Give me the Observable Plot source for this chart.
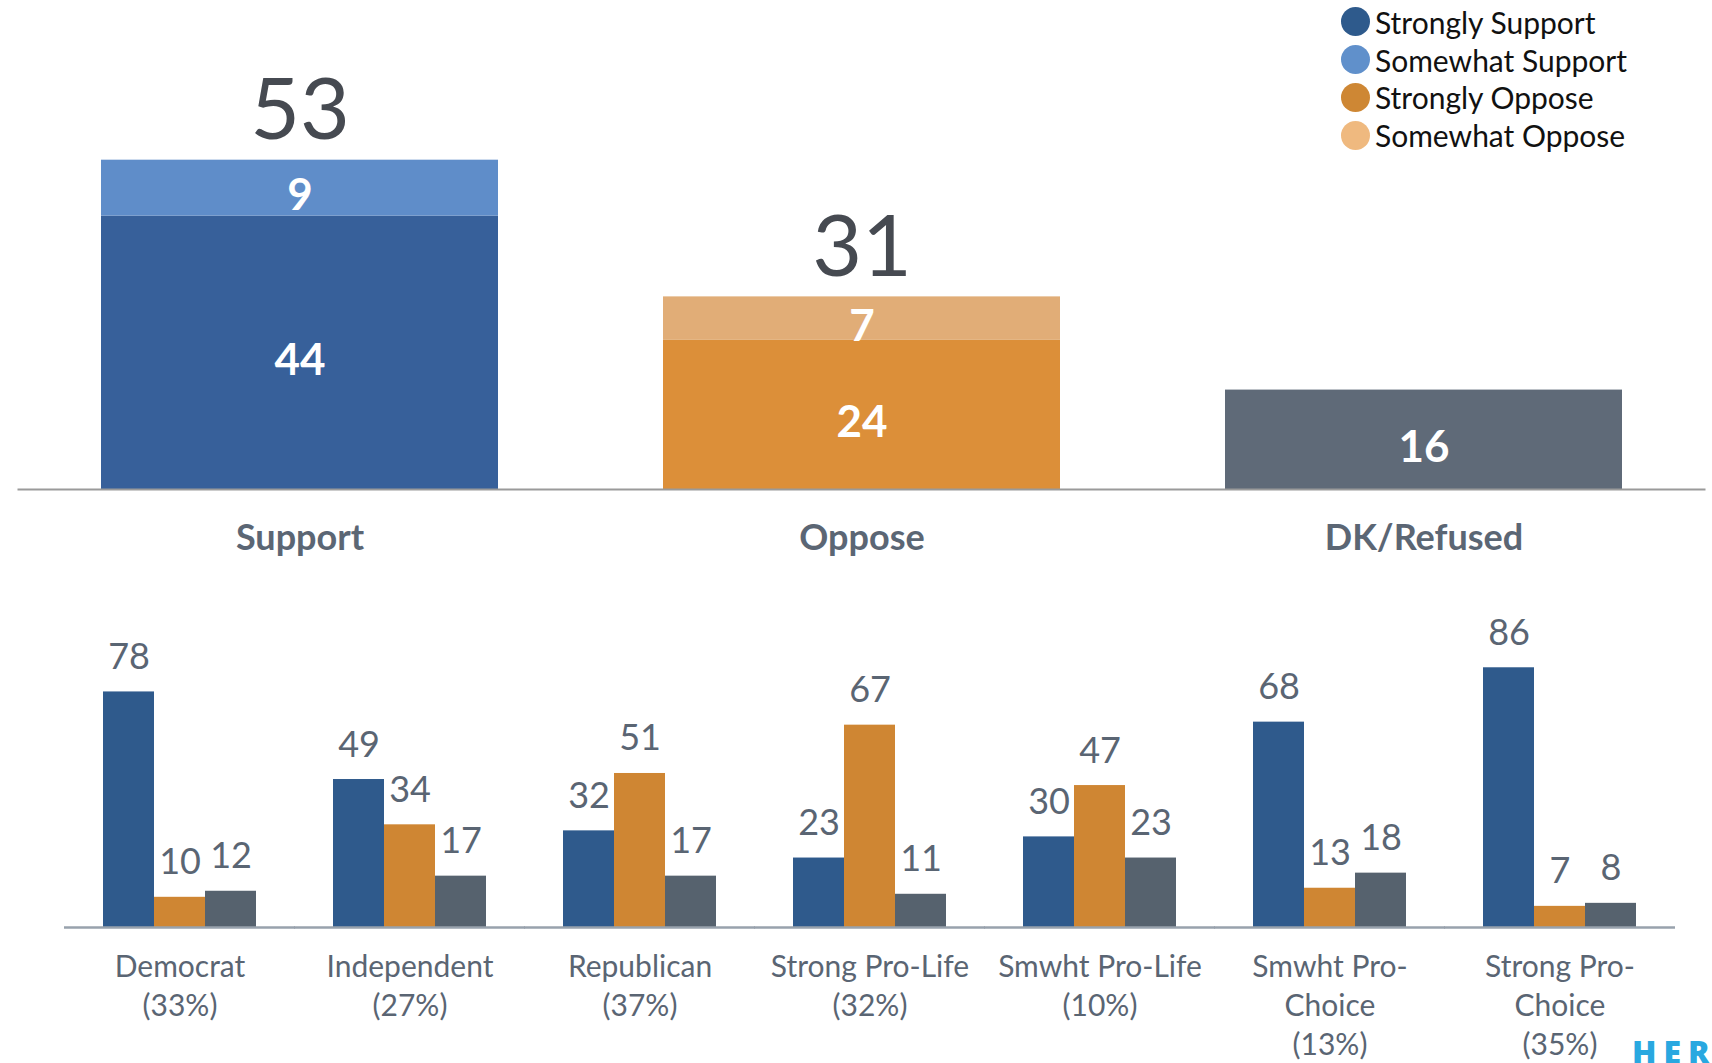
<!DOCTYPE html>
<html>
<head>
<meta charset="utf-8">
<script src="https://cdn.jsdelivr.net/npm/d3@7"></script>
<script src="https://cdn.jsdelivr.net/npm/@observablehq/plot@0.6"></script>
<style>
  body { margin: 0; background: #fff; }
  #wrap { position: relative; width: 1712px; height: 1063px; overflow: hidden; font-family: Lato, "Open Sans", sans-serif; }
  #top, #bottom { position: absolute; left: 0; }
  #top { top: 0; }
  #bottom { top: 580px; }
  #legend { position: absolute; left: 1341px; top: 3px; }
  .li { display: flex; align-items: center; height: 37.8px; font-size: 30px; color: #111; }
  .sw { width: 29px; height: 29px; border-radius: 50%; margin-right: 5px; }
  #logo { position: absolute; left: 1632px; top: 1030px; font-size: 32px; font-weight: 900; letter-spacing: 7px; color: #29a8e0; white-space: nowrap; font-family: "Open Sans", sans-serif; }
</style>
</head>
<body>
<div id="wrap">
  <div id="top"></div>
  <div id="bottom"></div>
  <div id="legend"></div>
  <div id="logo">HERITAGE</div>
</div>
<script>
// ---------- Top chart data ----------
const topCategories = ["Support", "Oppose", "DK/Refused"];
const topSegments = ["Strongly Support", "Somewhat Support", "Strongly Oppose", "Somewhat Oppose", "DK/Refused"];
const topSegCategory = ["Support", "Support", "Oppose", "Oppose", "DK/Refused"];
const topSegValues = [44, 9, 24, 7, 16];
const topTotals = [53, 31];
const topTotalCategories = ["Support", "Oppose"];
const topColors = ["#37609a", "#5f8dc9", "#dc8f39", "#e1ad77", "#5f6a78"];

// ---------- Legend ----------
const legendLabels = ["Strongly Support", "Somewhat Support", "Strongly Oppose", "Somewhat Oppose"];
const legendColors = ["#2e5a8c", "#6090cb", "#ce8734", "#efb97f"];

// ---------- Bottom chart data ----------
const groups = ["Democrat", "Independent", "Republican", "Strong Pro-Life", "Smwht Pro-Life", "Smwht Pro-Choice", "Strong Pro-Choice"];
const groupLabels = ["Democrat\n(33%)", "Independent\n(27%)", "Republican\n(37%)", "Strong Pro-Life\n(32%)", "Smwht Pro-Life\n(10%)", "Smwht Pro-\nChoice\n(13%)", "Strong Pro-\nChoice\n(35%)"];
const series = ["Support", "Oppose", "DK/Refused"];
const supportValues = [78, 49, 32, 23, 30, 68, 86];
const opposeValues = [10, 34, 51, 67, 47, 13, 7];
const dkValues = [12, 17, 17, 11, 23, 18, 8];
const bottomColors = ["#2f5a8c", "#cf8633", "#56626e"];

// ---------- Legend ----------
const leg = document.getElementById("legend");
legendLabels.forEach((l, i) => {
  const row = document.createElement("div");
  row.className = "li";
  const sw = document.createElement("div");
  sw.className = "sw";
  sw.style.background = legendColors[i];
  const t = document.createElement("span");
  t.textContent = l;
  row.appendChild(sw);
  row.appendChild(t);
  leg.appendChild(row);
});

// ---------- Build top ----------
const topData = topSegments.map((s, i) => ({seg: s, cat: topSegCategory[i], value: topSegValues[i]}));
const totalsData = topTotals.map((v, i) => ({cat: topTotalCategories[i], value: v}));

const topPlot = Plot.plot({
  width: 1712,
  height: 560,
  marginTop: 0,
  marginLeft: 17.5,
  marginRight: 6.5,
  marginBottom: 71,
  style: {fontFamily: "Lato, 'Open Sans', sans-serif", background: "transparent"},
  x: {domain: topCategories, paddingInner: 0.293, paddingOuter: 0.1465, label: null},
  y: {domain: [0, 78.7], axis: null},
  color: {domain: topSegments, range: topColors},
  marks: [
    Plot.barY(topData, {x: "cat", y: "value", fill: "seg", order: null}),
    Plot.text(topData, Plot.stackY({x: "cat", y: "value", text: d => String(d.value), order: null, fill: "white", fontSize: 44, fontWeight: "bold", dy: 8})),
    Plot.text(totalsData, {x: "cat", y: "value", text: d => String(d.value), lineAnchor: "bottom", dy: -21, fontSize: 86, fill: "#464a51"}),
    Plot.ruleY([0], {stroke: "#9a9a9a", strokeWidth: 2}),
    Plot.axisX({tickSize: 0, tickPadding: 35, fontSize: 36, fontWeight: "bold", fill: "#5b6674", label: null})
  ]
});
document.getElementById("top").appendChild(topPlot);

// ---------- Build bottom ----------
const valueArrays = [supportValues, opposeValues, dkValues];
const bottomData = [];
groups.forEach((g, gi) => {
  series.forEach((s, si) => bottomData.push({group: g, series: s, value: valueArrays[si][gi]}));
});
const labelData = groups.map((g, i) => ({group: g, label: groupLabels[i]}));

const bottomPlot = Plot.plot({
  width: 1712,
  height: 483,
  marginTop: 0,
  marginLeft: 63,
  marginRight: 36,
  marginBottom: 136,
  style: {fontFamily: "Lato, 'Open Sans', sans-serif", background: "transparent"},
  fx: {domain: groups, paddingInner: 0.336, paddingOuter: 0.168, axis: null},
  x: {domain: series, padding: 0, axis: null},
  y: {domain: [0, 114.9], axis: null},
  color: {domain: series, range: bottomColors},
  marks: [
    Plot.barY(bottomData, {fx: "group", x: "series", y: "value", fill: "series"}),
    Plot.ruleY([0], {stroke: "#98a2ad", strokeWidth: 2.5, insetLeft: -39, insetRight: -39}),
    Plot.text(bottomData, {fx: "group", x: "series", y: "value", text: d => String(d.value), lineAnchor: "bottom", dy: -23, fontSize: 36, fill: "#5a6573"}),
    Plot.text(labelData, {fx: "group", text: "label", frameAnchor: "bottom", lineAnchor: "top", dy: 22, fontSize: 30, lineHeight: 1.3, fill: "#5a6573"})
  ]
});
document.getElementById("bottom").appendChild(bottomPlot);
</script>
</body>
</html>
